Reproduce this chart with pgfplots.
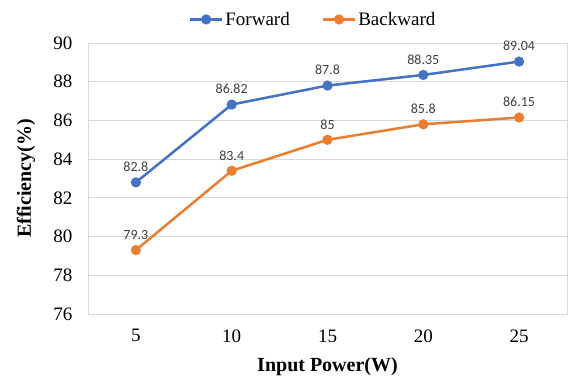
\documentclass[border=0pt]{standalone}
\usepackage{fontspec}
\setmainfont{Liberation Serif}
\newfontfamily\carlito{Carlito}
\usepackage{pgfplots}
\pgfplotsset{compat=1.18}
\usetikzlibrary{calc}
\definecolor{fwd}{HTML}{4472C4}
\definecolor{bwd}{HTML}{ED7D31}
\definecolor{gridc}{HTML}{D9D9D9}
\definecolor{lab}{HTML}{404040}
\begin{document}
\begin{tikzpicture}
\begin{axis}[name=ax, scale only axis, width=479pt, height=271pt,
  xmin=2.5, xmax=27.5, ymin=76, ymax=90,
  xtick={5,10,15,20,25}, ytick={76,78,...,90},
  ymajorgrids, grid style={gridc, line width=0.8pt},
  axis line style={gridc, line width=0.8pt},
  major tick length=0pt, tick style={draw=none},
  /pgf/number format/assume math mode=true,
  ticklabel style={font=\rmfamily\fontsize{19}{22}\selectfont},
  yticklabel style={xshift=-12pt},
  xticklabel style={yshift=-12pt},
  xlabel={\textbf{Input Power(W)}},
  ylabel={\textbf{Efficiency(\%)}},
  every axis y label/.style={at={(rel axis cs:0,0.5)}, xshift=-62pt, rotate=90, anchor=center, font=\rmfamily\fontsize{20}{24}\selectfont},
  every axis x label/.style={at={(rel axis cs:0.5,0)}, yshift=-53pt, anchor=center, font=\rmfamily\fontsize{20}{24}\selectfont},
  legend columns=2,
  legend style={at={(rel axis cs:0.47,1)}, anchor=south, yshift=12pt, draw=none,
    font=\rmfamily\fontsize{19}{22}\selectfont,
    /tikz/every even column/.append style={column sep=30pt}},
  legend image code/.code={\draw[mark repeat=2,mark phase=2,#1] plot coordinates {(0pt,0pt)(16pt,0pt)(32pt,0pt)};},
  point meta=explicit symbolic,
  nodes near coords={\carlito\fontsize{14}{16}\selectfont\pgfplotspointmeta},
  nodes near coords style={text=lab, anchor=south, yshift=6pt},
]
\addplot[fwd, line width=2.5pt, mark=*, mark size=3.8pt] coordinates {
  (5,82.8) [82.8] (10,86.82) [86.82] (15,87.8) [87.8] (20,88.35) [88.35] (25,89.04) [89.04]};
\addlegendentry{Forward}
\addplot[bwd, line width=2.5pt, mark=*, mark size=3.8pt] coordinates {
  (5,79.3) [79.3] (10,83.4) [83.4] (15,85) [85] (20,85.8) [85.8] (25,86.15) [86.15]};
\addlegendentry{Backward}
\end{axis}
\pgfresetboundingbox
\path[use as bounding box] ($(ax.south west)+(-88pt,-65pt)$) rectangle ($(ax.north east)+(1pt,43pt)$);
\end{tikzpicture}
\end{document}
